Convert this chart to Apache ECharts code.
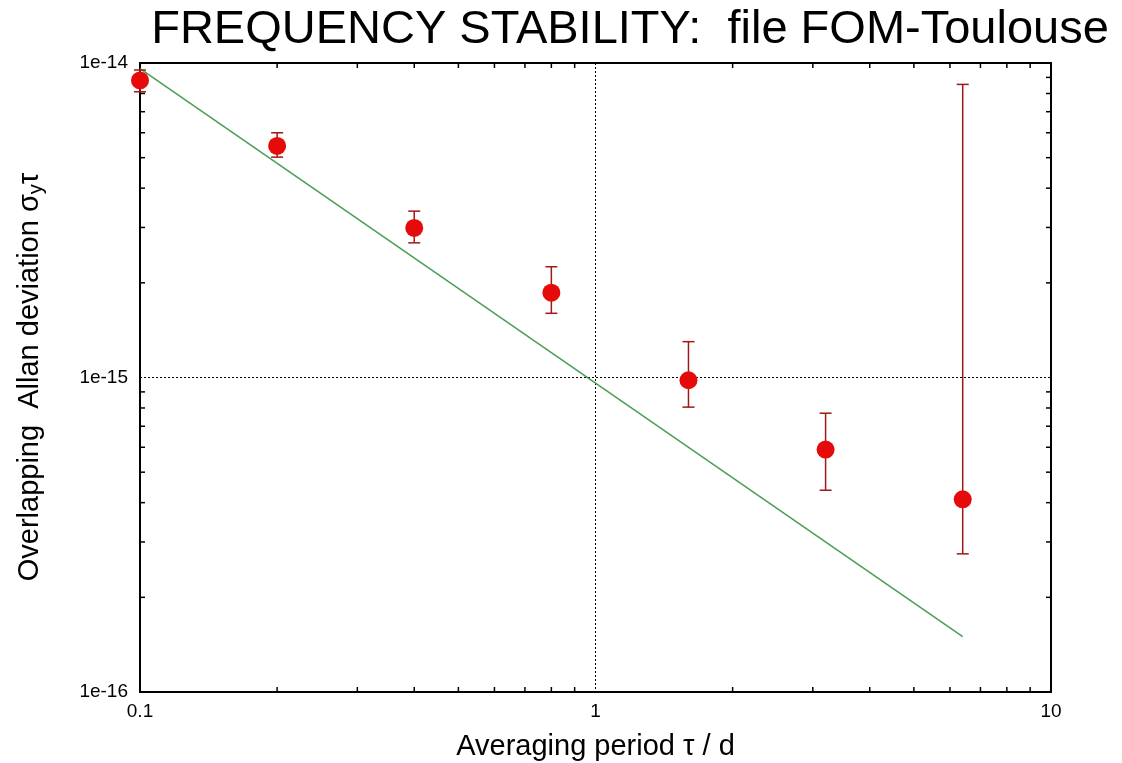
<!DOCTYPE html>
<html>
<head>
<meta charset="utf-8">
<script src="https://cdn.jsdelivr.net/npm/echarts@6/dist/echarts.min.js"></script>
<style>
html,body{margin:0;padding:0;background:#fff;}
#chart{width:1122px;height:763px;}
</style>
</head>
<body>
<div id="chart"></div>
<script>
// Averaging periods tau (days)
var tau = [0.1, 0.2, 0.4, 0.8, 1.6, 3.2, 6.4];
// Overlapping Allan deviation values
var adev = [8.8e-15, 5.45e-15, 2.99e-15, 1.86e-15, 9.8e-16, 5.9e-16, 4.1e-16];
// Error bar upper and lower bounds
var errHigh = [9.5e-15, 6.0e-15, 3.38e-15, 2.25e-15, 1.30e-15, 7.7e-16, 8.55e-15];
var errLow = [8.1e-15, 5.02e-15, 2.68e-15, 1.60e-15, 8.05e-16, 4.38e-16, 2.75e-16];
// Reference slope line endpoints
var fitTau = [0.1, 6.4];
var fitAdev = [9.6e-15, 1.5e-16];
// Axis ranges and tick labels
var xMin = 0.1, xMax = 10;
var yMin = 1e-16, yMax = 1e-14;
var xTickLabels = {'0.1': '0.1', '1': '1', '10': '10'};
var yTickLabels = {'-14': '1e-14', '-15': '1e-15', '-16': '1e-16'};
var minorMultipliers = [2, 3, 4, 5, 6, 7, 8, 9];
var xDecades = [0.1, 1];
var yDecades = [1e-16, 1e-15];

var xMinor = [];
xDecades.forEach(function (d) { minorMultipliers.forEach(function (m) { xMinor.push(m * d); }); });
var yMinor = [];
yDecades.forEach(function (d) { minorMultipliers.forEach(function (m) { yMinor.push(m * d); }); });

var chart = echarts.init(document.getElementById('chart'));
var FONT = '"Liberation Sans", Arial, sans-serif';
var TICK = 5;

function fmtX(v) {
  var key = String(Math.pow(10, Math.round(Math.log10(v))));
  return xTickLabels[key] || '';
}
function fmtY(v) {
  var e = String(Math.round(Math.log10(v)));
  return yTickLabels[e] || '';
}

var errData = tau.map(function (t, i) { return [t, errLow[i], errHigh[i]]; });
var pts = tau.map(function (t, i) { return [t, adev[i]]; });
var fit = fitTau.map(function (t, i) { return [t, fitAdev[i]]; });

var option = {
  backgroundColor: '#ffffff',
  animation: false,
  title: {
    text: 'FREQUENCY STABILITY:  file FOM-Toulouse',
    left: 625, top: 2, textAlign: 'center',
    textStyle: { fontFamily: FONT, fontSize: 47, fontWeight: 'normal', color: '#000' }
  },
  grid: { left: 140, right: 71, top: 63, bottom: 71, containLabel: false, outerBoundsMode: 'none' },
  xAxis: [{
    type: 'log', logBase: 10, min: xMin, max: xMax,
    axisLine: { show: true, lineStyle: { color: '#000', width: 2 } },
    axisTick: { show: false },
    axisLabel: { formatter: fmtX, fontFamily: FONT, fontSize: 19, color: '#000', margin: 10 },
    splitLine: { show: true, lineStyle: { color: '#000', type: [2, 2], width: 1 } },
    name: 'Averaging period τ / d', nameLocation: 'middle', nameGap: 40,
    nameTextStyle: { fontFamily: FONT, fontSize: 29, color: '#000' }
  }, {
    type: 'log', logBase: 10, min: xMin, max: xMax, position: 'top',
    axisLine: { show: true, lineStyle: { color: '#000', width: 2 } },
    axisTick: { show: false }, axisLabel: { show: false }, splitLine: { show: false }
  }],
  yAxis: [{
    type: 'log', logBase: 10, min: yMin, max: yMax,
    axisLine: { show: true, lineStyle: { color: '#000', width: 2 } },
    axisTick: { show: false },
    axisLabel: { formatter: fmtY, fontFamily: FONT, fontSize: 19, color: '#000', margin: 12 },
    splitLine: { show: true, lineStyle: { color: '#000', type: [2, 2], width: 1 } }
  }, {
    type: 'log', logBase: 10, min: yMin, max: yMax, position: 'right',
    axisLine: { show: true, lineStyle: { color: '#000', width: 2 } },
    axisTick: { show: false }, axisLabel: { show: false }, splitLine: { show: false }
  }],
  graphic: [{
    type: 'text', x: 30, y: 377, rotation: Math.PI / 2,
    style: {
      x: 0, y: 0,
      text: '{n|Overlapping  Allan deviation σ}{s|y}{n|τ}',
      align: 'center', verticalAlign: 'middle',
      rich: {
        n: { fontFamily: FONT, fontSize: 29, fill: '#000' },
        s: { fontFamily: FONT, fontSize: 20, fill: '#000', padding: [12, 0, 0, 0] }
      }
    }
  }],
  series: [
    {
      type: 'custom', name: 'xminor', coordinateSystem: 'cartesian2d',
      data: xMinor.map(function (v) { return [v]; }),
      renderItem: function (params, api) {
        var b = api.coord([api.value(0), yMin]);
        var t = api.coord([api.value(0), yMax]);
        var st = { stroke: '#000', lineWidth: 1.5 };
        return { type: 'group', children: [
          { type: 'line', shape: { x1: b[0], y1: b[1], x2: b[0], y2: b[1] - TICK }, style: st },
          { type: 'line', shape: { x1: t[0], y1: t[1], x2: t[0], y2: t[1] + TICK }, style: st }
        ] };
      },
      z: 1, silent: true
    },
    {
      type: 'custom', name: 'yminor', coordinateSystem: 'cartesian2d',
      data: yMinor.map(function (v) { return [xMin, v]; }),
      renderItem: function (params, api) {
        var l = api.coord([xMin, api.value(1)]);
        var r = api.coord([xMax, api.value(1)]);
        var st = { stroke: '#000', lineWidth: 1.5 };
        return { type: 'group', children: [
          { type: 'line', shape: { x1: l[0], y1: l[1], x2: l[0] + TICK, y2: l[1] }, style: st },
          { type: 'line', shape: { x1: r[0], y1: r[1], x2: r[0] - TICK, y2: r[1] }, style: st }
        ] };
      },
      z: 1, silent: true
    },
    {
      type: 'line', data: fit, symbol: 'none',
      lineStyle: { color: '#4a9e50', width: 1.5 }, z: 2, silent: true
    },
    {
      type: 'custom', name: 'err', data: errData,
      renderItem: function (params, api) {
        var lo = api.coord([api.value(0), api.value(1)]);
        var hi = api.coord([api.value(0), api.value(2)]);
        var w = 6;
        var st = { stroke: '#a01818', lineWidth: 1.5 };
        return { type: 'group', children: [
          { type: 'line', shape: { x1: lo[0], y1: lo[1], x2: hi[0], y2: hi[1] }, style: st },
          { type: 'line', shape: { x1: lo[0] - w, y1: lo[1], x2: lo[0] + w, y2: lo[1] }, style: st },
          { type: 'line', shape: { x1: hi[0] - w, y1: hi[1], x2: hi[0] + w, y2: hi[1] }, style: st }
        ] };
      },
      z: 3, silent: true
    },
    {
      type: 'scatter', data: pts, symbol: 'circle', symbolSize: 18,
      itemStyle: { color: '#e60b0b', opacity: 1 }, z: 4, silent: true
    }
  ]
};
chart.setOption(option);
</script>
</body>
</html>
